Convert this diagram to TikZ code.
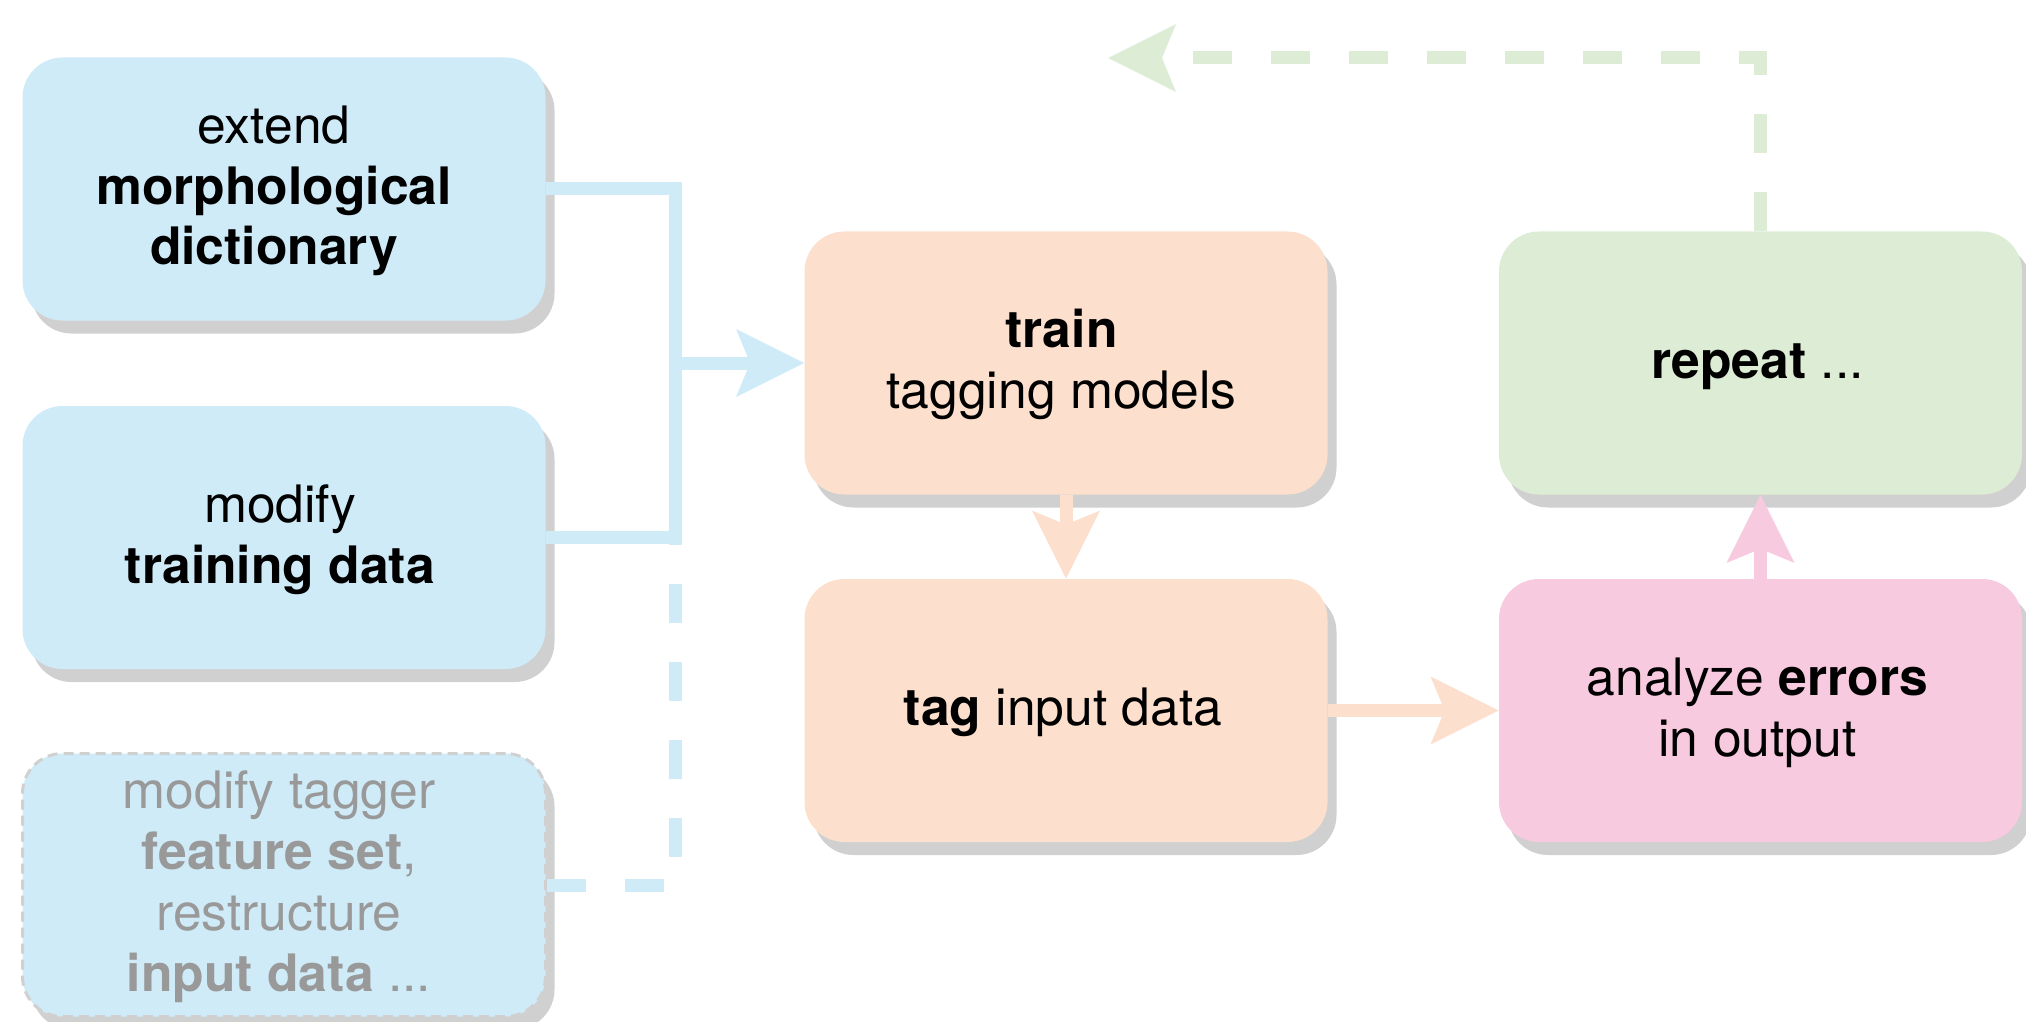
\documentclass[tikz,border=0pt]{standalone}
\usepackage{fontspec}
\setmainfont{TeX Gyre Heros}
\usetikzlibrary{arrows.meta,shadows}
\definecolor{cblue}{RGB}{207,235,248}
\definecolor{corange}{RGB}{252,224,205}
\definecolor{cpink}{RGB}{248,202,223}
\definecolor{cgreen}{RGB}{221,237,213}
\definecolor{cshadow}{RGB}{209,208,208}
\definecolor{cgraytext}{RGB}{153,153,153}
% #1: extra right space (shifts text left by half), #2: extra top space (shifts text down by half)
\newcommand{\boxtxt}[3]{\begin{tabular}{@{}c@{}}\noalign{\vskip #2}#3\end{tabular}\hspace*{#1}}
\begin{document}
\begin{tikzpicture}[x=0.5pt,y=-0.5pt,
  box/.style={rounded corners=20pt, minimum width=261.5pt, minimum height=131.5pt,
    inner sep=0pt, font=\fontsize{25.8}{30.4}\selectfont,
    drop shadow={shadow xshift=4.5pt, shadow yshift=-6.5pt, fill=cshadow, opacity=1}},
  conn/.style={line width=6.5pt, line join=miter},
  arrowtip/.style={-{Stealth[length=34pt,width=34pt,inset=7pt,line width=0pt]}},
  dashline/.style={dash pattern=on 19.5pt off 19.5pt}
]
\fill[white] (0,0) rectangle (2026,1022);
\useasboundingbox (0,0) rectangle (2026,1022);

\node[box, fill=cblue] (ext) at (284,189) {\boxtxt{10pt}{3pt}{extend\\\textbf{morphological}\\\textbf{dictionary}}};
\node[box, fill=cblue] (mod) at (284,537.5) {\boxtxt{4pt}{3pt}{modify\\\textbf{training data}}};
\node[box, fill=cblue, draw=cshadow, dash pattern=on 5pt off 3pt, line width=1.5pt, text=cgraytext] (feat) at (284,885) {\boxtxt{5pt}{3pt}{modify tagger\\\textbf{feature set},\\restructure\\\textbf{input data} ...}};
\node[box, fill=corange] (train) at (1066,363) {\boxtxt{4.5pt}{3pt}{\textbf{train}\\tagging models}};
\node[box, fill=corange] (tag) at (1066,710.5) {\boxtxt{3pt}{3pt}{\textbf{tag} input data}};
\node[box, fill=cpink] (ana) at (1760.5,710.5) {\boxtxt{3pt}{3pt}{analyze \textbf{errors}\\in output}};
\node[box, fill=cgreen] (rep) at (1760.5,363) {\boxtxt{3pt}{3pt}{\textbf{repeat} ...}};

\coordinate (jx) at (675,363);
\coordinate (jb) at (675,537.5);
\coordinate (gend) at (1108,58);

\draw[conn, cblue] (ext.east) -| (jb) -- (mod.east);
\draw[conn, cblue, arrowtip] (jx) -- (train.west);
\draw[conn, cblue, dashline] (feat.east) -| (jb);
\draw[conn, corange, arrowtip] (train.south) -- (tag.north);
\draw[conn, corange, arrowtip] (tag.east) -- (ana.west);
\draw[conn, cpink, arrowtip] (ana.north) -- (rep.south);
\draw[conn, cgreen, dashline, arrowtip] (rep.north) |- (gend);
\end{tikzpicture}
\end{document}
